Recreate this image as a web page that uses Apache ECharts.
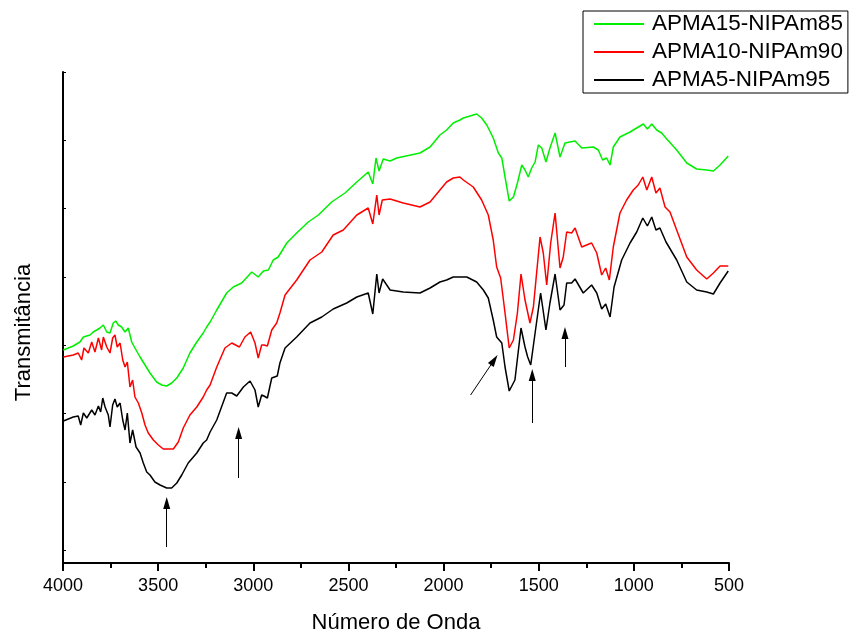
<!DOCTYPE html>
<html>
<head>
<meta charset="utf-8">
<title>FTIR</title>
<script src="https://cdn.jsdelivr.net/npm/echarts@6/dist/echarts.min.js"></script>
<style>
  html, body { margin: 0; padding: 0; background: #fff; }
  #grafico { width: 853px; height: 635px; }
</style>
</head>
<body>
<div id="grafico"></div>
<script>
// Espectros FTIR - número de onda (cm-1) e transmitância (unid. arbitrárias)
const nomes = ['APMA15-NIPAm85', 'APMA10-NIPAm90', 'APMA5-NIPAm95'];
const cores = ['#00ee00', '#ff0000', '#000000'];

const verdeX = [3998,3946,3911,3893,3858,3841,3823,3806,3788,3770,3753,3736,3723,3709,3692,3674,3657,3639,3622,3595,3569,3543,3508,3481,3455,3429,3402,3368,3333,3297,3263,3245,3227,3192,3140,3105,3061,3008,2974,2947,2921,2895,2869,2824,2772,2711,2658,2588,2518,2456,2396,2372,2355,2339,2317,2281,2246,2124,2071,2019,1984,1949,1914,1896,1826,1800,1773,1739,1712,1694,1677,1655,1633,1612,1589,1572,1555,1537,1519,1502,1484,1462,1441,1414,1388,1362,1336,1309,1274,1213,1187,1164,1143,1125,1108,1073,1020,985,950,929,906,880,854,827,775,722,670,617,582,547,504];
const verdeY = [215,219,223,228,230,233,235,237,240,233,232,242,244,240,238,233,237,223,217,208,200,192,183,180,179,182,187,197,212,223,232,238,243,255,272,278,282,293,288,294,295,305,308,322,332,343,350,363,372,383,393,381,407,394,406,404,407,412,418,430,435,442,445,447,451,447,440,427,412,407,388,364,368,382,400,395,388,397,403,420,417,403,417,432,408,422,423,424,417,418,415,405,407,400,418,428,433,437,441,436,441,435,432,426,415,402,396,395,394,400,409];

const vermelhoX = [3998,3946,3920,3902,3890,3867,3849,3832,3814,3797,3788,3770,3753,3739,3727,3715,3700,3686,3674,3662,3648,3634,3622,3604,3586,3569,3552,3525,3499,3473,3447,3420,3394,3368,3333,3297,3263,3245,3227,3192,3149,3113,3073,3044,3014,2991,2974,2956,2944,2926,2903,2877,2860,2833,2772,2702,2640,2580,2527,2456,2396,2372,2351,2339,2322,2281,2212,2124,2071,2019,1984,1949,1914,1896,1844,1800,1765,1739,1721,1700,1677,1655,1633,1612,1593,1572,1546,1528,1493,1476,1458,1437,1414,1388,1371,1353,1327,1309,1274,1222,1195,1169,1148,1129,1108,1073,1038,1003,977,953,932,906,884,863,836,810,775,722,670,617,582,547,504];
const vermelhoY = [208,210,212,205,217,212,223,213,227,215,228,218,212,227,230,218,222,205,198,203,178,185,168,162,152,140,132,125,120,116,116,116,123,137,150,158,168,175,180,198,217,222,218,228,233,222,207,220,220,219,235,242,252,270,285,305,313,330,335,350,357,341,370,350,365,366,362,358,363,375,383,387,388,385,378,365,350,325,298,287,252,217,225,252,291,265,242,258,328,312,280,322,352,297,308,333,332,337,318,322,312,290,297,285,318,352,365,375,380,388,375,388,372,377,358,353,335,308,295,286,292,299,299];

const pretoX = [3998,3946,3920,3907,3893,3875,3849,3832,3814,3802,3791,3779,3762,3753,3739,3727,3715,3700,3686,3674,3662,3648,3634,3616,3595,3578,3560,3543,3517,3490,3455,3429,3402,3376,3342,3297,3263,3245,3227,3192,3140,3113,3087,3052,3017,2991,2974,2956,2944,2926,2903,2874,2860,2833,2772,2702,2640,2580,2509,2456,2396,2372,2351,2339,2320,2281,2212,2124,2071,2019,1984,1949,1914,1878,1826,1791,1765,1739,1721,1694,1677,1655,1625,1593,1572,1558,1542,1519,1490,1462,1441,1414,1388,1367,1353,1327,1309,1266,1222,1195,1169,1148,1125,1104,1064,1020,985,953,929,906,884,863,831,775,722,670,617,582,547,504];
const pretoY = [144,148,149,140,152,147,155,150,159,153,167,158,150,138,160,166,158,162,145,135,152,122,135,118,112,102,93,90,83,80,77,77,82,90,102,112,122,125,133,145,172,172,169,178,184,175,158,170,169,167,187,189,202,217,228,242,248,256,262,268,272,251,291,272,286,275,273,272,277,283,285,288,288,288,283,275,267,245,228,222,198,174,185,237,218,208,200,232,272,235,262,291,255,260,282,282,286,272,280,272,256,261,248,278,305,322,333,347,339,348,335,337,323,305,283,275,273,271,282,294];

// Setas (cauda -> ponta), em coordenadas dos dados
const setaCauda = [[3455, 18], [3077, 87], [1858, 170], [1534, 142], [1362, 198]];
const setaPonta = [[3455, 62], [3077, 132], [1734, 205], [1534, 190], [1362, 232]];

// Marcas do eixo y (sem rótulos)
const marcasY = [15, 83, 152, 220, 288, 357, 425, 493];

const fonte = 'Arial, "Liberation Sans", sans-serif';

function pares(xs, ys) {
    return xs.map(function (x, i) { return [x, ys[i]]; });
}

const dados = [pares(verdeX, verdeY), pares(vermelhoX, vermelhoY), pares(pretoX, pretoY)];

const setas = setaCauda.map(function (c, i) {
    return [{ coord: c }, { coord: setaPonta[i] }];
});

const chart = echarts.init(document.getElementById('grafico'));

const option = {
    animation: false,
    backgroundColor: '#fff',
    grid: {
        left: 63,
        right: 124,
        top: 72,
        bottom: 72,
        containLabel: false,
        outerBoundsMode: 'none'
    },
    legend: {
        data: nomes,
        orient: 'vertical',
        left: 583,
        top: 11,
        padding: [1, 5, 1, 11],
        itemGap: 4,
        itemWidth: 50,
        itemHeight: 2,
        icon: 'rect',
        borderColor: '#000',
        borderWidth: 1,
        textStyle: {
            fontFamily: fonte,
            fontSize: 22.5,
            lineHeight: 24,
            color: '#000',
            padding: [0, 0, 0, 3]
        }
    },
    xAxis: {
        type: 'value',
        min: 500,
        max: 4000,
        interval: 500,
        inverse: true,
        name: 'Número de Onda',
        nameLocation: 'middle',
        nameGap: 49,
        nameTextStyle: { fontFamily: fonte, fontSize: 22, color: '#000' },
        axisLine: { lineStyle: { color: '#000', width: 2 } },
        axisTick: { length: 8, lineStyle: { color: '#000', width: 2 } },
        minorTick: { show: true, splitNumber: 2, length: 5, lineStyle: { color: '#000', width: 2 } },
        axisLabel: {
            fontFamily: fonte, fontSize: 18, color: '#000', margin: 14,
            formatter: function (v) { return String(v); }
        },
        splitLine: { show: false }
    },
    yAxis: {
        type: 'value',
        min: 2,
        max: 493,
        name: 'Transmitância',
        nameLocation: 'middle',
        nameGap: 28,
        nameTextStyle: { fontFamily: fonte, fontSize: 22, color: '#000', padding: [0, 0, 0, -30] },
        axisLine: { show: true, lineStyle: { color: '#000', width: 2 } },
        axisTick: { show: true, inside: true, length: 3, customValues: marcasY, lineStyle: { color: '#000', width: 1 } },
        axisLabel: { show: false },
        splitLine: { show: false }
    },
    series: dados.map(function (d, i) {
        const s = {
            name: nomes[i],
            type: 'line',
            data: d,
            symbol: 'none',
            smooth: false,
            lineStyle: { color: cores[i], width: 1.5 },
            itemStyle: { color: cores[i] },
            z: 3 - i
        };
        if (i === 2) {
            s.markLine = {
                silent: true,
                symbol: ['none', 'triangle'],
                symbolSize: [7, 12],
                label: { show: false },
                lineStyle: { color: '#000', width: 1, type: 'solid' },
                data: setas
            };
        }
        return s;
    })
};

chart.setOption(option);
</script>
</body>
</html>
